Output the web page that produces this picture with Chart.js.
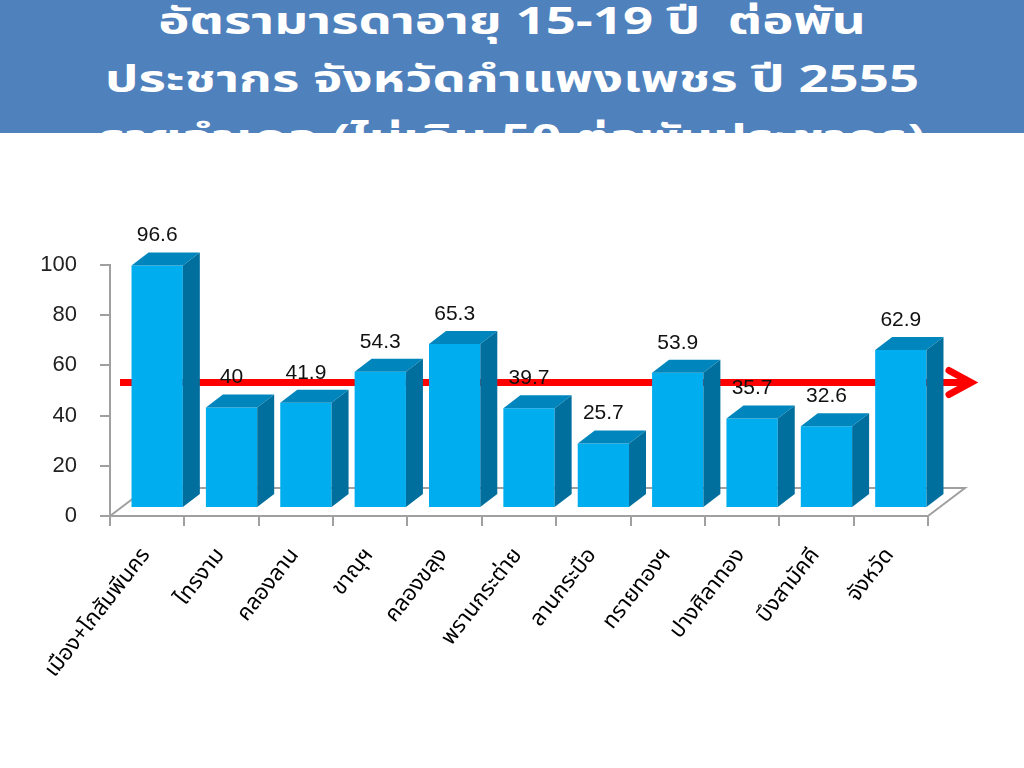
<!DOCTYPE html>
<html>
<head>
<meta charset="utf-8">
<script src="https://cdn.jsdelivr.net/npm/chart.js@4.4.1/dist/chart.umd.min.js"></script>
<style>
  html, body { margin: 0; padding: 0; background: #fff; }
  #wrap { position: relative; width: 1024px; height: 768px; overflow: hidden; }
  #title {
    position: absolute; left: 0; top: 0; width: 1024px; height: 133px;
    background: #4f81bd; color: #fff; overflow: hidden; z-index: 2;
    font-family: "Noto Sans Thai", "Noto Sans", sans-serif; font-weight: bold;
    font-size: 42px; line-height: 65px; text-align: center;
  }
  #title .lines { margin-top: -7px; transform: scale(1.255, 0.9); transform-origin: 512px 0; }
  #title .lines div { white-space: nowrap; }
  canvas { position: absolute; left: 0; top: 0; }
</style>
</head>
<body>
<div id="wrap">
  <div id="title">
    <div class="lines">
      <div>อัตรามารดาอายุ 15-19 ปี&nbsp; ต่อพัน</div>
      <div>ประชากร จังหวัดกำแพงเพชร ปี 2555</div>
      <div>รายอำเภอ (ไม่เกิน 50 ต่อพันประชากร)</div>
    </div>
  </div>
  <canvas id="chart" width="1024" height="768"></canvas>
</div>
<script>
  // ข้อมูลอัตรามารดาอายุ 15-19 ปี รายอำเภอ
  const districts = ['เมือง+โกสัมพีนคร', 'ไทรงาม', 'คลองลาน', 'ขาณุฯ', 'คลองขลุง', 'พรานกระต่าย',
    'ลานกระบือ', 'ทรายทองฯ', 'ปางศิลาทอง', 'บึงสามัคคี', 'จังหวัด'];
  const rates = [96.6, 40, 41.9, 54.3, 65.3, 39.7, 25.7, 53.9, 35.7, 32.6, 62.9];
  const target = 50; // เกณฑ์ไม่เกิน 50 ต่อพันประชากร
  const yTicks = [0, 20, 40, 60, 80, 100];

  // ระยะเลื่อนของแท่ง 3 มิติ
  const shiftX = 10;
  const shiftY = -8;
  const depthX = 17;
  const depthY = -13;

  const bar3d = {
    id: 'bar3d',
    beforeDatasetsDraw(chart) {
      const { ctx, chartArea: a, scales: { y } } = chart;
      // พื้น 3 มิติ
      ctx.save();
      ctx.strokeStyle = '#a0a0a0';
      ctx.lineWidth = 2;
      ctx.beginPath();
      ctx.moveTo(a.left, a.bottom);
      ctx.lineTo(a.left + 37, a.bottom - 28);
      ctx.lineTo(a.right + 37, a.bottom - 28);
      ctx.lineTo(a.right, a.bottom);
      ctx.stroke();
      // เส้นเกณฑ์สีแดง
      const ty = y.getPixelForValue(target) + shiftY;
      ctx.strokeStyle = '#ff0000';
      ctx.lineWidth = 7;
      ctx.beginPath();
      ctx.moveTo(a.left + 10, ty);
      ctx.lineTo(a.right + 38, ty);
      ctx.stroke();
      ctx.lineCap = 'round';
      ctx.beginPath();
      ctx.moveTo(a.right + 21, ty - 12);
      ctx.lineTo(a.right + 43, ty);
      ctx.lineTo(a.right + 21, ty + 12);
      ctx.stroke();
      ctx.restore();
      ctx.save();
      ctx.translate(shiftX, shiftY);
    },
    afterDatasetsDraw(chart) {
      const { ctx } = chart;
      ctx.restore();
      const meta = chart.getDatasetMeta(0);
      ctx.save();
      ctx.translate(shiftX, shiftY);
      meta.data.forEach((bar, i) => {
        const l = bar.x - bar.width / 2;
        const r = bar.x + bar.width / 2;
        const t = bar.y;
        const b = bar.base;
        ctx.fillStyle = '#0086bd';
        ctx.beginPath();
        ctx.moveTo(l, t);
        ctx.lineTo(l + depthX, t + depthY);
        ctx.lineTo(r + depthX, t + depthY);
        ctx.lineTo(r, t);
        ctx.closePath();
        ctx.fill();
        ctx.fillStyle = '#006f9e';
        ctx.beginPath();
        ctx.moveTo(r, t);
        ctx.lineTo(r + depthX, t + depthY);
        ctx.lineTo(r + depthX, b + depthY);
        ctx.lineTo(r, b);
        ctx.closePath();
        ctx.fill();
        // ป้ายค่า
        ctx.fillStyle = '#111';
        ctx.font = '21px "Liberation Sans", Arial, sans-serif';
        ctx.textAlign = 'center';
        ctx.textBaseline = 'middle';
        ctx.fillText(String(rates[i]), bar.x, t - 30);
      });
      ctx.restore();
    }
  };

  new Chart(document.getElementById('chart'), {
    type: 'bar',
    data: {
      labels: districts,
      datasets: [{
        data: rates,
        backgroundColor: '#00aeef',
        borderWidth: 0,
        barPercentage: 0.69,
        categoryPercentage: 1,
      }],
    },
    options: {
      responsive: false,
      animation: false,
      layout: { padding: { left: 0, right: 96, top: 265, bottom: 0 } },
      plugins: { legend: { display: false }, tooltip: { enabled: false }, title: { display: false } },
      scales: {
        x: {
          afterFit(scale) { scale.height = 252; },
          grid: { offset: true, drawOnChartArea: false, tickLength: 10, color: '#a0a0a0', lineWidth: 2 },
          border: { color: '#a0a0a0', width: 2 },
          ticks: {
            maxRotation: 52, minRotation: 52, padding: 18, color: '#000',
            font: { family: '"Noto Sans Thai", "Noto Sans", sans-serif', size: 22 },
          },
        },
        y: {
          min: 0, max: 100,
          afterFit(scale) { scale.width = 110; },
          afterBuildTicks(scale) { scale.ticks = yTicks.map((v) => ({ value: v })); },
          grid: { drawOnChartArea: false, tickLength: 10, color: '#a0a0a0', lineWidth: 2 },
          border: { color: '#a0a0a0', width: 2 },
          ticks: {
            padding: 23, color: '#222',
            font: { family: '"Liberation Sans", Arial, sans-serif', size: 22 },
          },
        },
      },
    },
    plugins: [bar3d],
  });
</script>
</body>
</html>
